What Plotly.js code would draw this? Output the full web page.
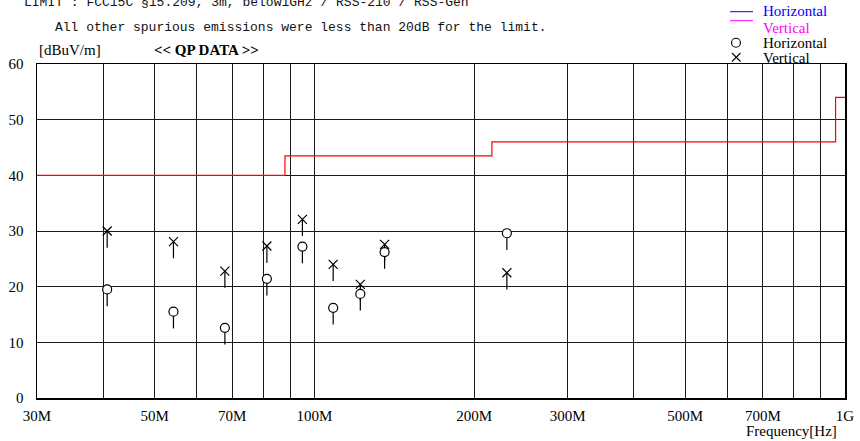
<!DOCTYPE html>
<html>
<head>
<meta charset="utf-8">
<script src="https://cdn.plot.ly/plotly-3.0.1.min.js"></script>
<style>
  html, body { margin: 0; padding: 0; background: #ffffff; }
  #chart { width: 860px; height: 441px; }
</style>
</head>
<body>
<div id="chart"></div>
<script>
// Measured quasi-peak levels (dBuV/m) at each emission frequency (MHz)
const FREQ_MHZ      = [40.68, 54.24, 67.80, 81.36, 94.92, 108.48, 122.04, 135.60, 230.52];
const QP_HORIZONTAL = [19.5, 15.5, 12.6, 21.4, 27.2, 16.2, 18.7, 26.2, 29.6];
const QP_VERTICAL   = [30.0, 28.1, 22.8, 27.3, 32.1, 24.0, 20.4, 27.6, 22.5];

// FCC 15.209 limit steps (drawn as a step line)
const LIMIT_FREQ  = [30, 88, 216, 960, 1000];
const LIMIT_LEVEL = [40, 43.5, 46, 54, 54];

// Axis grid and labels
const GRID_FREQ = [30, 40, 50, 60, 70, 80, 90, 100, 200, 300, 400, 500, 600, 700, 800, 900, 1000];
const GRID_TEXT = ['30M', '', '50M', '', '70M', '', '', '100M', '200M', '300M', '', '500M', '', '700M', '', '', '1G'];
const LEVEL_TICKS = [0, 10, 20, 30, 40, 50, 60];

const TITLE_LINES = [
  'LIMIT : FCC15C §15.209, 3m, below1GHz / RSS-210 / RSS-Gen',
  'All other spurious emissions were less than 20dB for the limit.'
];

// Plot area geometry (pixels)
const W = 860, H = 441;
const M = { l: 37, r: 15, t: 64, b: 43 };
const PW = W - M.l - M.r, PH = H - M.t - M.b;
const px = x => (x - M.l) / PW;
const py = y => (M.t + PH - y) / PH;

const SERIF = 'Liberation Serif, Times New Roman, serif';
const MONO = 'Liberation Mono, DejaVu Sans Mono, monospace';
const STEM_DB = 3;

const stem = { type: 'constant', value: 0, valueminus: STEM_DB, symmetric: false,
               color: '#000', thickness: 1.2, width: 0 };

const traces = [
  {
    x: LIMIT_FREQ, y: LIMIT_LEVEL, type: 'scatter', mode: 'lines', name: 'Limit',
    line: { color: '#ff0000', width: 1.2, shape: 'hv' }, hoverinfo: 'skip'
  },
  {
    x: FREQ_MHZ, y: QP_VERTICAL, type: 'scatter', mode: 'markers', name: 'Vertical',
    marker: { symbol: 'x-thin-open', size: 9, color: '#000', line: { color: '#000', width: 1.2 } },
    error_y: stem
  },
  {
    x: FREQ_MHZ, y: QP_HORIZONTAL, type: 'scatter', mode: 'markers', name: 'Horizontal',
    marker: { symbol: 'circle', size: 9, color: '#ffffff', line: { color: '#000', width: 1.2 } },
    error_y: stem
  }
];

const annotations = [
  { text: TITLE_LINES[0], x: px(22), y: py(3), xanchor: 'left', yanchor: 'middle',
    font: { family: MONO, size: 13, color: '#111' } },
  { text: TITLE_LINES[1], x: px(53), y: py(27), xanchor: 'left', yanchor: 'middle',
    font: { family: MONO, size: 13, color: '#111' } },
  { text: '[dBuV/m]', x: px(37), y: py(50), xanchor: 'left', yanchor: 'middle',
    font: { family: SERIF, size: 15, color: '#000' } },
  { text: '<b>&lt;&lt; QP DATA &gt;&gt;</b>', x: px(152), y: py(50), xanchor: 'left', yanchor: 'middle',
    font: { family: SERIF, size: 15, color: '#000' } },
  { text: 'Frequency[Hz]', x: px(791), y: py(431), xanchor: 'center', yanchor: 'middle',
    font: { family: SERIF, size: 15, color: '#000' } },
  // legend
  { text: 'Horizontal', x: px(761), y: py(11.5), xanchor: 'left', yanchor: 'middle',
    font: { family: SERIF, size: 15, color: '#0000ff' } },
  { text: 'Vertical', x: px(761), y: py(27.5), xanchor: 'left', yanchor: 'middle',
    font: { family: SERIF, size: 15, color: '#ff00ff' } },
  { text: 'Horizontal', x: px(761), y: py(43), xanchor: 'left', yanchor: 'middle',
    font: { family: SERIF, size: 15, color: '#000' } },
  { text: 'Vertical', x: px(761), y: py(58.5), xanchor: 'left', yanchor: 'middle',
    font: { family: SERIF, size: 15, color: '#000' } }
].map(a => Object.assign({ xref: 'paper', yref: 'paper', showarrow: false }, a));

const shapes = [
  { type: 'line', x0: px(730), x1: px(753), y0: py(11.7), y1: py(11.7), line: { color: '#0000ff', width: 1 } },
  { type: 'line', x0: px(730), x1: px(753), y0: py(20.7), y1: py(20.7), line: { color: '#ff00ff', width: 1 } },
  { type: 'circle', x0: px(731.5), x1: px(740.5), y0: py(38.2), y1: py(47.2), line: { color: '#000', width: 1.1 } },
  { type: 'line', x0: px(732), x1: px(740.5), y0: py(53), y1: py(61.5), line: { color: '#000', width: 1.1 } },
  { type: 'line', x0: px(732), x1: px(740.5), y0: py(61.5), y1: py(53), line: { color: '#000', width: 1.1 } }
].map(s => Object.assign({ xref: 'paper', yref: 'paper' }, s));

const layout = {
  width: W, height: H,
  margin: M,
  paper_bgcolor: '#ffffff', plot_bgcolor: '#ffffff',
  showlegend: false,
  xaxis: {
    type: 'log',
    range: [Math.log10(30), Math.log10(1000)],
    tickmode: 'array', tickvals: GRID_FREQ, ticktext: GRID_TEXT,
    showgrid: true, gridcolor: '#1a1a1a', gridwidth: 1,
    zeroline: false, showline: true, linecolor: '#000', linewidth: 1.5, mirror: true,
    ticks: '', ticklabelstandoff: 3,
    tickfont: { family: SERIF, size: 15, color: '#000' }
  },
  yaxis: {
    range: [0, 60],
    tickmode: 'array', tickvals: LEVEL_TICKS,
    showgrid: true, gridcolor: '#1a1a1a', gridwidth: 1,
    zeroline: false, showline: true, linecolor: '#000', linewidth: 1.5, mirror: true,
    ticks: '', ticklabelstandoff: 9,
    tickfont: { family: SERIF, size: 15, color: '#000' }
  },
  annotations: annotations,
  shapes: shapes
};

Plotly.newPlot('chart', traces, layout, { displayModeBar: false, staticPlot: true });
</script>
</body>
</html>
